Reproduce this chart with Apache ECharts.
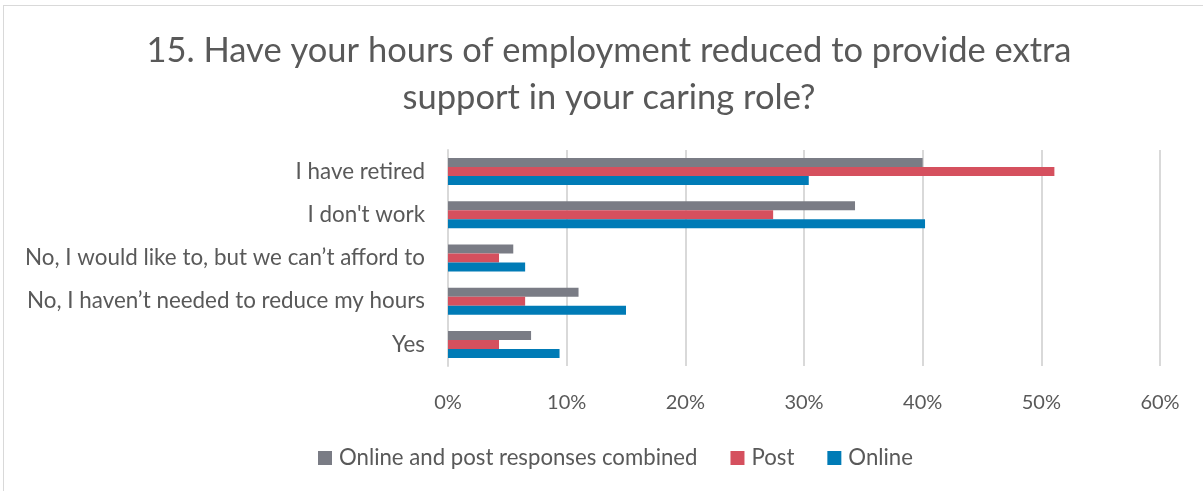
<!DOCTYPE html>
<html>
<head>
<meta charset="utf-8">
<script src="https://cdn.jsdelivr.net/npm/echarts@6/dist/echarts.min.js"></script>
<style>
html,body{margin:0;padding:0;background:#fff;}
#frame{position:absolute;left:3px;top:5px;width:1210px;height:490px;border-top:1px solid #d9d9d9;border-left:1px solid #d9d9d9;}
#chart{position:absolute;left:0;top:0;width:1203px;height:491px;}
</style>
</head>
<body>
<div id="frame"></div>
<div id="chart"></div>
<script>
const titleText = "15. Have your hours of employment reduced to provide extra\nsupport in your caring role?";
const categories = [
  "I have retired",
  "I don't work",
  "No, I would like to, but we can\u2019t afford to",
  "No, I haven\u2019t needed to reduce my hours",
  "Yes"
];
const seriesNames = ["Online and post responses combined", "Post", "Online"];
const combined = [40.0, 34.3, 5.5, 11.0, 7.0];
const post = [51.1, 27.4, 4.3, 6.5, 4.3];
const online = [30.4, 40.2, 6.5, 15.0, 9.4];
const xTicks = [0, 10, 20, 30, 40, 50, 60];
const colors = ["#7a7c85", "#d5505e", "#007bb6"];

const font = "Lato, 'Open Sans', sans-serif";
const chart = echarts.init(document.getElementById('chart'));
const data = [combined, post, online];
chart.setOption({
  animation: false,
  title: {
    text: titleText,
    left: 604,
    textAlign: 'center',
    top: 22,
    textStyle: {fontFamily: font, fontSize: 34.5, fontWeight: 'normal', color: '#595959', lineHeight: 47}
  },
  legend: {
    bottom: 17,
    left: 313,
    itemWidth: 14,
    itemHeight: 14,
    itemGap: 33,
    icon: 'rect',
    textStyle: {fontFamily: font, fontSize: 22.2, color: '#595959', padding: [0,0,0,2]},
    data: seriesNames
  },
  grid: {left: 448, right: 43, top: 150, bottom: 125},
  xAxis: {
    type: 'value',
    min: xTicks[0],
    max: xTicks[xTicks.length - 1],
    interval: 10,
    axisLine: {show: false},
    axisTick: {show: false},
    splitLine: {lineStyle: {color: '#d9d9d9', width: 2}},
    axisLabel: {formatter: v => v + '%', fontFamily: font, fontSize: 20, color: '#595959', margin: 27}
  },
  yAxis: {
    type: 'category',
    inverse: true,
    data: categories,
    axisLine: {lineStyle: {color: '#d9d9d9', width: 2}},
    axisTick: {show: false},
    axisLabel: {fontFamily: font, fontSize: 22.4, color: '#595959', margin: 23}
  },
  series: seriesNames.map((n, i) => ({
    name: n,
    type: 'bar',
    data: data[i],
    barWidth: 9,
    barGap: '0%',
    itemStyle: {color: colors[i]}
  }))
});
</script>
</body>
</html>
